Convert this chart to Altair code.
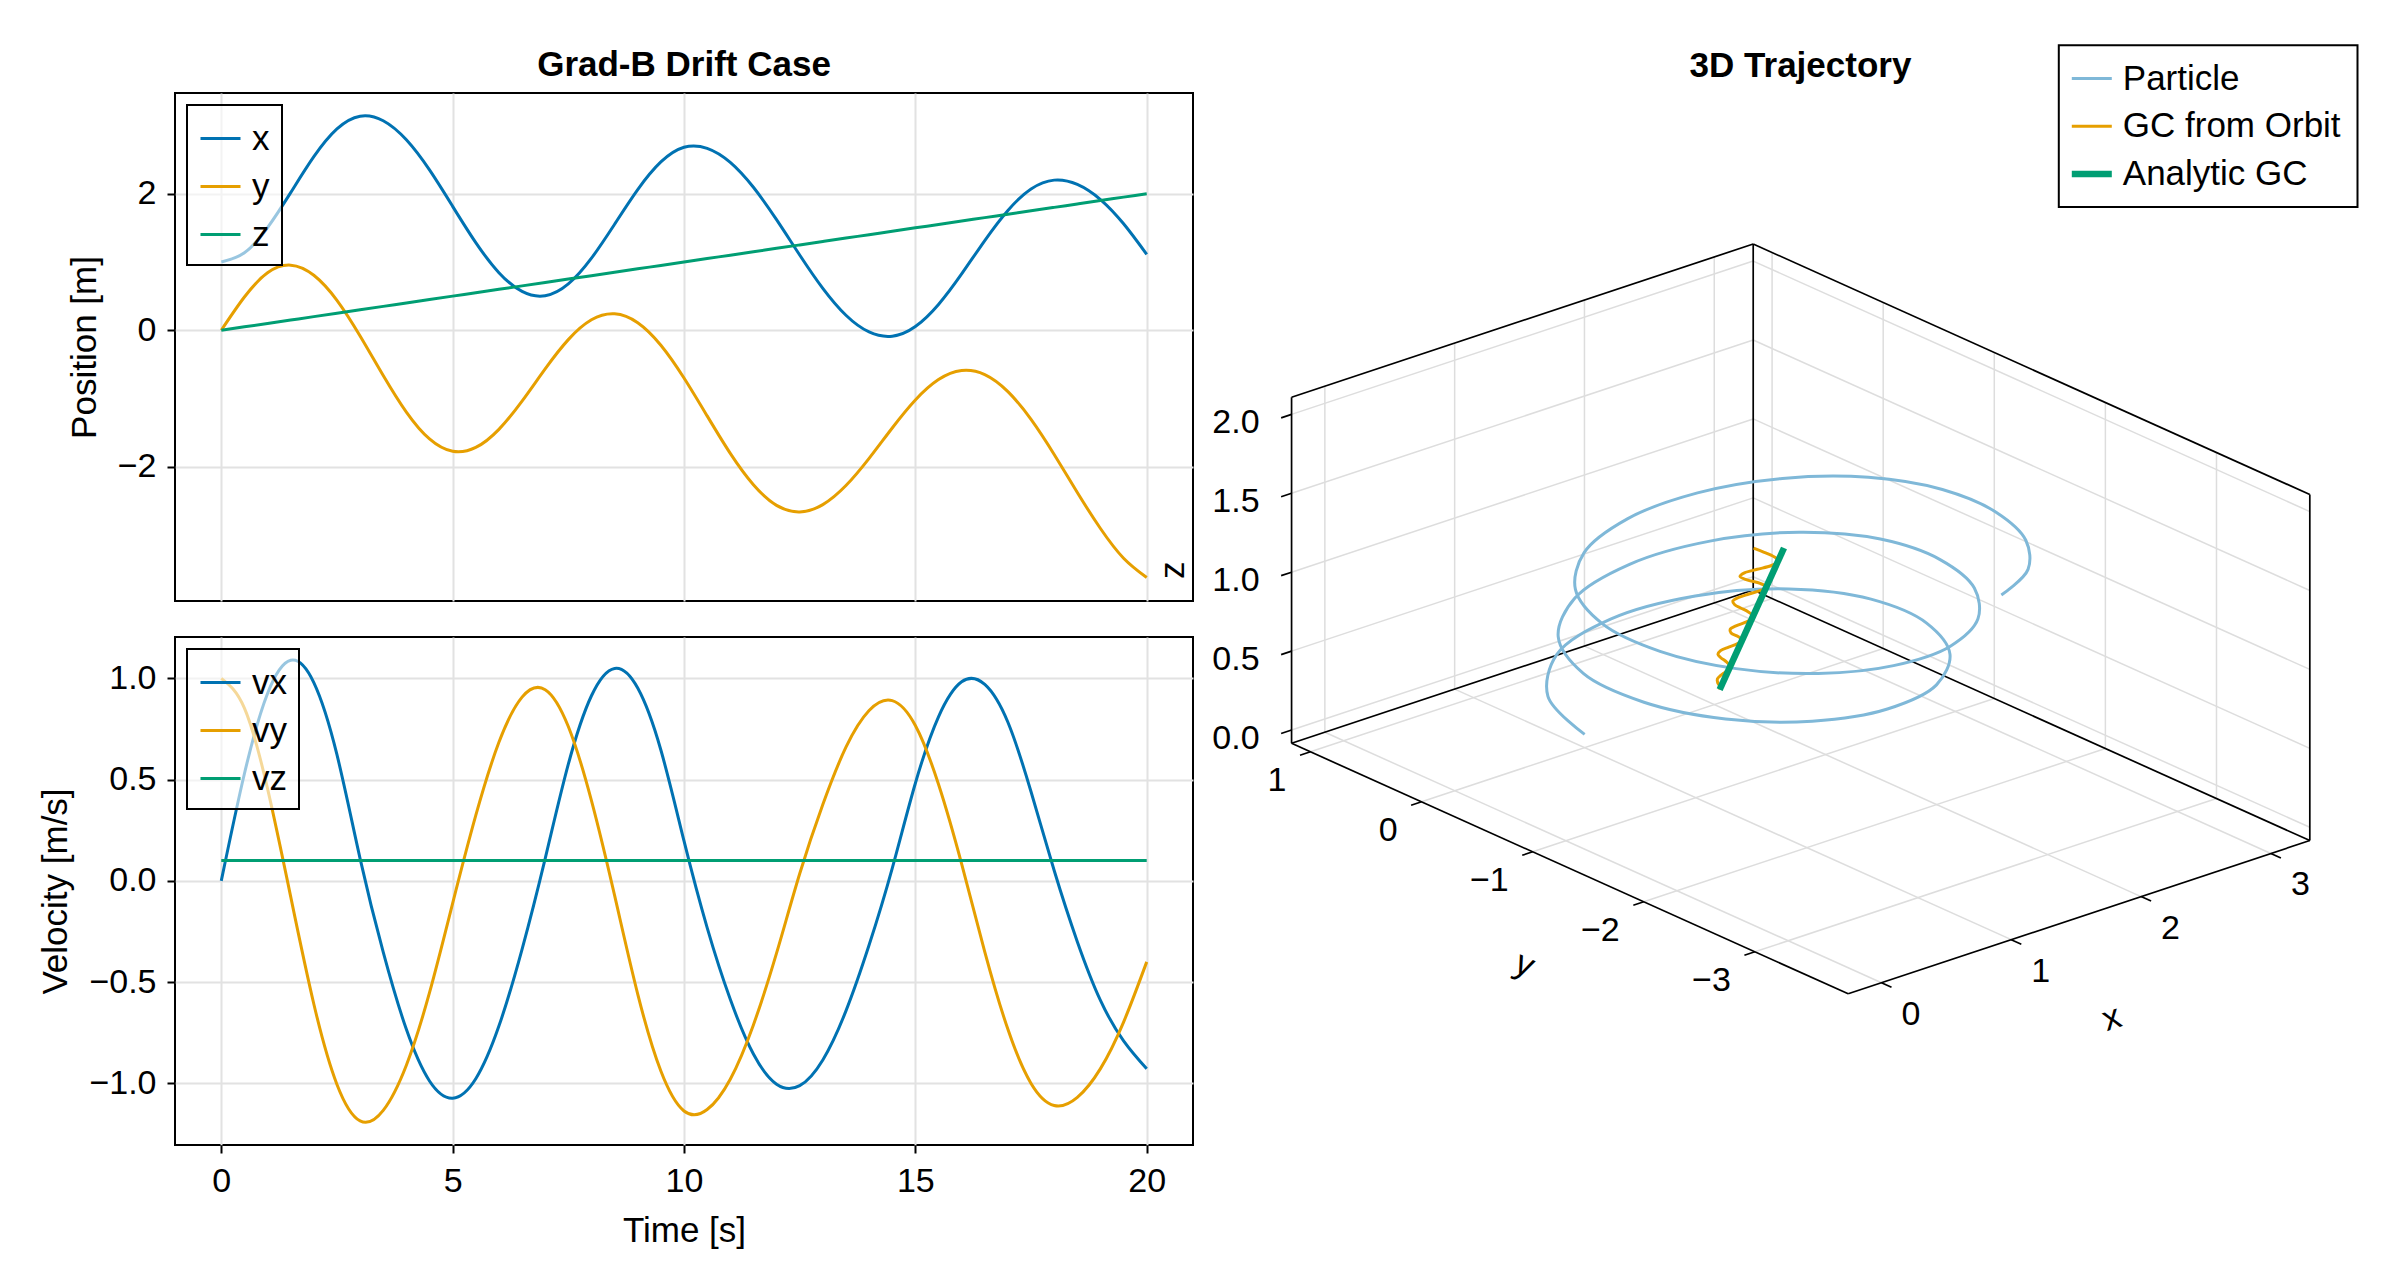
import math
import altair as alt
import pandas as pd

FONT = "Liberation Sans"
BLUE, ORANGE, GREEN = "#0072B2", "#E69F00", "#009E73"
PARTICLE_BLUE = "#7FB8D8"

# ---------------- values ----------------
t = [0.0, 0.5, 1.0, 1.5, 2.0, 2.5, 3.0, 3.5, 4.0, 4.5, 5.0, 5.5, 6.0, 6.5, 7.0, 7.5,
     8.0, 8.5, 9.0, 9.5, 10.0, 10.5, 11.0, 11.5, 12.0, 12.5, 13.0, 13.5, 14.0, 14.5,
     15.0, 15.5, 16.0, 16.5, 17.0, 17.5, 18.0, 18.5, 19.0, 19.5, 20.0]

x_pos = [1.000, 1.134, 1.504, 2.016, 2.542, 2.949, 3.135, 3.068, 2.789, 2.348, 1.815,
         1.284, 0.844, 0.569, 0.506, 0.679, 1.056, 1.553, 2.060, 2.465, 2.680, 2.665,
         2.459, 2.094, 1.620, 1.103, 0.614, 0.220, -0.025, -0.087, 0.055, 0.378, 0.825,
         1.314, 1.755, 2.069, 2.199, 2.136, 1.914, 1.559, 1.111]
y_pos = [0.000, 0.487, 0.842, 0.954, 0.806, 0.439, -0.083, -0.662, -1.198, -1.592, -1.773,
         -1.716, -1.451, -1.037, -0.565, -0.137, 0.153, 0.242, 0.111, -0.219, -0.699, -1.254,
         -1.803, -2.262, -2.564, -2.660, -2.553, -2.274, -1.876, -1.431, -1.021, -0.722,
         -0.589, -0.649, -0.898, -1.305, -1.819, -2.376, -2.903, -3.338, -3.621]
z_pos = [0.00, 0.05, 0.10, 0.15, 0.20, 0.25, 0.30, 0.35, 0.40, 0.45, 0.50, 0.55, 0.60,
         0.65, 0.70, 0.75, 0.80, 0.85, 0.90, 0.95, 1.00, 1.05, 1.10, 1.15, 1.20, 1.25,
         1.30, 1.35, 1.40, 1.45, 1.50, 1.55, 1.60, 1.65, 1.70, 1.75, 1.80, 1.85, 1.90,
         1.95, 2.00]

vx = [0.000, 0.529, 0.925, 1.089, 0.979, 0.623, 0.110, -0.352, -0.733, -0.988, -1.073,
      -0.977, -0.717, -0.338, 0.110, 0.576, 0.914, 1.049, 0.952, 0.646, 0.197, -0.231,
      -0.585, -0.855, -1.004, -1.011, -0.884, -0.642, -0.317, 0.062, 0.482, 0.810, 0.983,
      0.970, 0.783, 0.440, 0.051, -0.300, -0.590, -0.790, -0.928]
vy = [1.000, 0.853, 0.455, -0.078, -0.608, -1.005, -1.185, -1.133, -0.910, -0.552, -0.111,
      0.323, 0.684, 0.907, 0.944, 0.762, 0.396, -0.072, -0.559, -0.939, -1.136, -1.129,
      -0.979, -0.711, -0.357, 0.035, 0.377, 0.660, 0.841, 0.890, 0.767, 0.477, 0.084,
      -0.350, -0.733, -1.000, -1.109, -1.069, -0.927, -0.697, -0.400]
vz = [0.1, 0.1, 0.1, 0.1, 0.1, 0.1, 0.1, 0.1, 0.1, 0.1, 0.1, 0.1, 0.1, 0.1, 0.1, 0.1,
      0.1, 0.1, 0.1, 0.1, 0.1, 0.1, 0.1, 0.1, 0.1, 0.1, 0.1, 0.1, 0.1, 0.1, 0.1, 0.1,
      0.1, 0.1, 0.1, 0.1, 0.1, 0.1, 0.1, 0.1, 0.1]

gc_orbit_x = [2.040, 1.996, 1.945, 1.901, 1.873, 1.852, 1.825, 1.782, 1.724, 1.659, 1.603,
              1.572, 1.565, 1.562, 1.540, 1.478, 1.404, 1.357, 1.340, 1.338, 1.323, 1.283,
              1.222, 1.149, 1.077, 1.025, 1.006, 1.012, 1.021, 1.003, 0.933, 0.831, 0.757,
              0.734, 0.748, 0.766, 0.753, 0.706, 0.638, 0.557, 0.474]
gc_orbit_y = [0.000, -0.050, -0.093, -0.142, -0.205, -0.273, -0.337, -0.387, -0.424, -0.456,
              -0.495, -0.555, -0.636, -0.720, -0.788, -0.822, -0.846, -0.892, -0.965, -1.049,
              -1.124, -1.176, -1.211, -1.235, -1.261, -1.304, -1.374, -1.465, -1.559, -1.631,
              -1.658, -1.658, -1.682, -1.749, -1.848, -1.950, -2.025, -2.072, -2.101, -2.118,
              -2.135]
gc_orbit_z = [0.00, 0.05, 0.10, 0.15, 0.20, 0.25, 0.30, 0.35, 0.40, 0.45, 0.50, 0.55, 0.60,
              0.65, 0.70, 0.75, 0.80, 0.85, 0.90, 0.95, 1.00, 1.05, 1.10, 1.15, 1.20, 1.25,
              1.30, 1.35, 1.40, 1.45, 1.50, 1.55, 1.60, 1.65, 1.70, 1.75, 1.80, 1.85, 1.90,
              1.95, 2.00]

gc_analytic_x = [2.04, 0.61]
gc_analytic_y = [0.00, -2.25]
gc_analytic_z = [0.00, 2.00]

pos_series = ["x", "y", "z"]
vel_series = ["vx", "vy", "vz"]
traj_series = ["Particle", "GC from Orbit", "Analytic GC"]
panel_titles = ["Grad-B Drift Case", "3D Trajectory"]

time_ticks = [0, 5, 10, 15, 20]
pos_ticks = [-2, 0, 2]
vel_ticks = [-1.0, -0.5, 0.0, 0.5, 1.0]
x3_ticks = [0, 1, 2, 3]
y3_ticks = [-3, -2, -1, 0, 1]
z3_ticks = [0.0, 0.5, 1.0, 1.5, 2.0]

# ---------------- layout / style constants ----------------
LW, LH = 1018, 508
VGAP = 36
P_X0, P_Y0 = 173.5, 91.7          # page position of the top panel's plot area
TITLE_POS = [(682.5, 63.3), (1799.0, 64.6)]

# orthographic 3D view (page pixel units)
O3 = (1453.35, 776.2)
EX3 = (129.8, -43.1)
EY3 = (-111.1, -50.0)
EZ3 = (0.0, -157.85)
X0, X1 = -0.2565, 3.30
Y0, Y1 = -3.84, 1.17
Z0, Z1 = -0.084, 2.108
TICK = 11.0
TRAJ_WIDTHS = [3.0, 3.0, 6.5]
XNAME_OFF, YNAME_OFF, ZNAME_OFF = (32.5, 100.8), (-45.0, 96.0), (-119.0, 0.0)

# 3D legend box
LEG_X, LEG_Y, LEG_W, LEG_H = 2057.3, 44.0, 298.7, 161.7
LEG_ROW0, LEG_ROWH, LEG_SYM0, LEG_SYM1, LEG_LAB = 33.3, 47.7, 13.0, 53.0, 64.0


def proj(x, y, z):
    return (O3[0] + x * EX3[0] + y * EY3[0] + z * EZ3[0],
            O3[1] + x * EX3[1] + y * EY3[1] + z * EZ3[1])


def unit(v):
    n = math.hypot(v[0], v[1])
    return (v[0] / n, v[1] / n)


def minus(s):
    return s.replace("-", "\u2212")


# ---------------- left panels ----------------
pos_df = pd.DataFrame([{"t": tt, "value": v, "series": n}
                       for n, arr in zip(pos_series, [x_pos, y_pos, z_pos])
                       for tt, v in zip(t, arr)])
vel_df = pd.DataFrame([{"t": tt, "value": v, "series": n}
                       for n, arr in zip(vel_series, [vx, vy, vz])
                       for tt, v in zip(t, arr)])

tscale = alt.Scale(domain=[-1, 21], nice=False, zero=False)

pos_lines = alt.Chart(pos_df).mark_line(strokeWidth=3, interpolate="natural").encode(
    x=alt.X("t:Q", scale=tscale,
            axis=alt.Axis(values=time_ticks, labels=False, ticks=False, domain=False, title=None)),
    y=alt.Y("value:Q", scale=alt.Scale(domain=[-3.965, 3.475], nice=False, zero=False),
            axis=alt.Axis(values=pos_ticks, format="d", title="Position [m]")),
    color=alt.Color("series:N", scale=alt.Scale(domain=pos_series, range=[BLUE, ORANGE, GREEN]),
                    legend=alt.Legend(title=None)),
)

bottom = alt.Chart(vel_df).mark_line(strokeWidth=3, interpolate="natural").encode(
    x=alt.X("t:Q", scale=tscale,
            axis=alt.Axis(values=time_ticks, format="d", title="Time [s]")),
    y=alt.Y("value:Q", scale=alt.Scale(domain=[-1.304, 1.204], nice=False, zero=False),
            axis=alt.Axis(values=vel_ticks, format=".1f", title="Velocity [m/s]")),
    color=alt.Color("series:N", scale=alt.Scale(domain=vel_series, range=[BLUE, ORANGE, GREEN]),
                    legend=alt.Legend(title=None)),
).properties(width=LW, height=LH)

# ---------------- 3D panel (page-pixel units, anchored to the top panel) ----------------
edges = [((X0, Y1, Z0), (X0, Y0, Z0)), ((X0, Y0, Z0), (X1, Y0, Z0)),
         ((X1, Y0, Z0), (X1, Y1, Z0)), ((X1, Y1, Z0), (X0, Y1, Z0)),
         ((X0, Y1, Z0), (X0, Y1, Z1)), ((X0, Y1, Z1), (X1, Y1, Z1)),
         ((X1, Y1, Z0), (X1, Y1, Z1)), ((X1, Y1, Z1), (X1, Y0, Z1)),
         ((X1, Y0, Z0), (X1, Y0, Z1))]
grid = []
for xt in x3_ticks:
    grid.append(((xt, Y0, Z0), (xt, Y1, Z0)))
    grid.append(((xt, Y1, Z0), (xt, Y1, Z1)))
for yt in y3_ticks:
    grid.append(((X0, yt, Z0), (X1, yt, Z0)))
    grid.append(((X1, yt, Z0), (X1, yt, Z1)))
for zt in z3_ticks:
    grid.append(((X0, Y1, zt), (X1, Y1, zt)))
    grid.append(((X1, Y0, zt), (X1, Y1, zt)))


def seg_df(pairs):
    rows = []
    for p, q in pairs:
        a, b = proj(*p), proj(*q)
        rows.append({"sx": a[0], "sy": a[1], "sx2": b[0], "sy2": b[1]})
    return pd.DataFrame(rows)


ux = unit((-EY3[0], -EY3[1]))
uy = unit((-EX3[0], -EX3[1]))
tick_rows, xlab, ylab, zlab = [], [], [], []
for xt in x3_ticks:
    a = proj(xt, Y0, Z0)
    tick_rows.append({"sx": a[0], "sy": a[1], "sx2": a[0] + ux[0] * TICK, "sy2": a[1] + ux[1] * TICK})
    xlab.append({"sx": a[0], "sy": a[1], "label": minus(str(xt))})
for yt in y3_ticks:
    a = proj(X0, yt, Z0)
    tick_rows.append({"sx": a[0], "sy": a[1], "sx2": a[0] + uy[0] * TICK, "sy2": a[1] + uy[1] * TICK})
    ylab.append({"sx": a[0], "sy": a[1], "label": minus(str(yt))})
for zt in z3_ticks:
    a = proj(X0, Y1, zt)
    tick_rows.append({"sx": a[0], "sy": a[1], "sx2": a[0] + uy[0] * TICK, "sy2": a[1] + uy[1] * TICK})
    zlab.append({"sx": a[0], "sy": a[1], "label": minus(f"{zt:.1f}")})


def curve_df(xs_, ys_, zs_, name):
    rows = []
    for i, (a, b, c) in enumerate(zip(xs_, ys_, zs_)):
        p = proj(a, b, c)
        rows.append({"sx": p[0], "sy": p[1], "idx": i, "series": name})
    return pd.DataFrame(rows)


part_df = curve_df(x_pos, y_pos, z_pos, traj_series[0])
gco_df = curve_df(gc_orbit_x, gc_orbit_y, gc_orbit_z, traj_series[1])
gca_df = curve_df(gc_analytic_x, gc_analytic_y, gc_analytic_z, traj_series[2])

xs = alt.Scale(domain=[P_X0, P_X0 + LW], nice=False, zero=False)
ys = alt.Scale(domain=[P_Y0, P_Y0 + LH], nice=False, zero=False, reverse=True)
X = alt.X("sx:Q", scale=xs, axis=None)
Y = alt.Y("sy:Q", scale=ys, axis=None)

color3 = alt.Color("series:N",
                   scale=alt.Scale(domain=traj_series, range=[PARTICLE_BLUE, ORANGE, GREEN]),
                   legend=None)

grid_layer = alt.Chart(seg_df(grid)).mark_rule(color="#dddddd", strokeWidth=1.5).encode(
    x=X, y=Y, x2="sx2:Q", y2="sy2:Q")
edge_layer = alt.Chart(seg_df(edges)).mark_rule(color="black", strokeWidth=1.7).encode(
    x=X, y=Y, x2="sx2:Q", y2="sy2:Q")
tick_layer = alt.Chart(pd.DataFrame(tick_rows)).mark_rule(color="black", strokeWidth=1.7).encode(
    x=X, y=Y, x2="sx2:Q", y2="sy2:Q")

part_layer = alt.Chart(part_df).mark_line(strokeWidth=TRAJ_WIDTHS[0], interpolate="catmull-rom").encode(
    x=X, y=Y, order=alt.Order("idx:Q"), color=color3)
gco_layer = alt.Chart(gco_df).mark_line(strokeWidth=TRAJ_WIDTHS[1], interpolate="catmull-rom").encode(
    x=X, y=Y, order=alt.Order("idx:Q"), color=color3)
gca_layer = alt.Chart(gca_df).mark_line(strokeWidth=TRAJ_WIDTHS[2]).encode(
    x=X, y=Y, order=alt.Order("idx:Q"), color=color3)

txt = dict(font=FONT, fontSize=34, color="black")
xlab_layer = alt.Chart(pd.DataFrame(xlab)).mark_text(align="center", baseline="middle", dx=29.5, dy=32, **txt).encode(
    x=X, y=Y, text="label:N")
ylab_layer = alt.Chart(pd.DataFrame(ylab)).mark_text(align="right", baseline="middle", dx=-24, dy=29, **txt).encode(
    x=X, y=Y, text="label:N")
zlab_layer = alt.Chart(pd.DataFrame(zlab)).mark_text(align="right", baseline="middle", dx=-32, dy=9, **txt).encode(
    x=X, y=Y, text="label:N")

ax_txt = dict(font=FONT, fontSize=35, color="black", align="center", baseline="middle")
pxm = proj((X0 + X1) / 2, Y0, Z0)
pym = proj(X0, (Y0 + Y1) / 2, Z0)
pzm = proj(X0, Y1, (Z0 + Z1) / 2)
xname = alt.Chart(pd.DataFrame([{"sx": pxm[0] + XNAME_OFF[0], "sy": pxm[1] + XNAME_OFF[1], "label": "x"}])).mark_text(
    angle=341.6, **ax_txt).encode(x=X, y=Y, text="label:N")
yname = alt.Chart(pd.DataFrame([{"sx": pym[0] + YNAME_OFF[0], "sy": pym[1] + YNAME_OFF[1], "label": "y"}])).mark_text(
    angle=24.3, **ax_txt).encode(x=X, y=Y, text="label:N")
zname = alt.Chart(pd.DataFrame([{"sx": pzm[0] + ZNAME_OFF[0], "sy": pzm[1] + ZNAME_OFF[1], "label": "z"}])).mark_text(
    angle=270, **ax_txt).encode(x=X, y=Y, text="label:N")
titles = alt.Chart(pd.DataFrame([{"sx": p[0], "sy": p[1], "label": s}
                                 for s, p in zip(panel_titles, TITLE_POS)])).mark_text(
    font=FONT, fontSize=35, fontWeight="bold", color="black", align="center", baseline="middle").encode(
    x=X, y=Y, text="label:N")

leg_box = alt.Chart(pd.DataFrame([{"sx": LEG_X, "sy": LEG_Y, "sx2": LEG_X + LEG_W, "sy2": LEG_Y + LEG_H}])).mark_rect(
    fill="white", stroke="black", strokeWidth=2).encode(x=X, y=Y, x2="sx2:Q", y2="sy2:Q")
leg_rows = pd.DataFrame([{"sx": LEG_X + LEG_SYM0, "sx2": LEG_X + LEG_SYM1, "sy": LEG_Y + LEG_ROW0 + i * LEG_ROWH,
                          "lx": LEG_X + LEG_LAB, "series": s, "lw": w}
                         for i, (s, w) in enumerate(zip(traj_series, TRAJ_WIDTHS))])
leg_sym = alt.Chart(leg_rows).mark_rule().encode(
    x=X, y=Y, x2="sx2:Q", color=color3, strokeWidth=alt.StrokeWidth("lw:Q", scale=None))
leg_lab = alt.Chart(leg_rows).mark_text(font=FONT, fontSize=35, color="black", align="left",
                                        baseline="middle").encode(
    x=alt.X("lx:Q", scale=xs, axis=None), y=Y, text="series:N")

traj3d = alt.layer(
    grid_layer, edge_layer, tick_layer, part_layer, gco_layer, gca_layer,
    xlab_layer, ylab_layer, zlab_layer, xname, yname, zname, titles,
    leg_box, leg_sym, leg_lab,
)

top = alt.layer(pos_lines, traj3d).resolve_scale(
    x="independent", y="independent", color="independent"
).properties(width=LW, height=LH)

chart = alt.vconcat(top, bottom, spacing=VGAP, bounds="flush").resolve_scale(
    color="independent", x="independent", y="independent"
).properties(
    padding={"left": 29, "top": 35, "right": 0, "bottom": 0}
).configure(font=FONT).configure_view(
    stroke="black", strokeWidth=2
).configure_axis(
    labelFont=FONT, titleFont=FONT, labelFontSize=34, titleFontSize=35,
    titleFontWeight="normal", labelColor="black", titleColor="black",
    tickColor="black", tickSize=8, tickWidth=2, gridColor="#e2e2e2", gridWidth=2,
    domain=False, labelPadding=11, titlePadding=15,
).configure_legend(
    orient="top-left", offset=12, padding=12, strokeColor="black", strokeWidth=2,
    fillColor="rgba(255,255,255,0.6)", symbolType="stroke", symbolSize=1600,
    symbolStrokeWidth=3, labelFont=FONT, labelFontSize=35, labelColor="black",
    rowPadding=8, labelOffset=10, labelLimit=600, cornerRadius=0,
)

chart.save("out.html", embed_options={"renderer": "svg", "actions": False})
